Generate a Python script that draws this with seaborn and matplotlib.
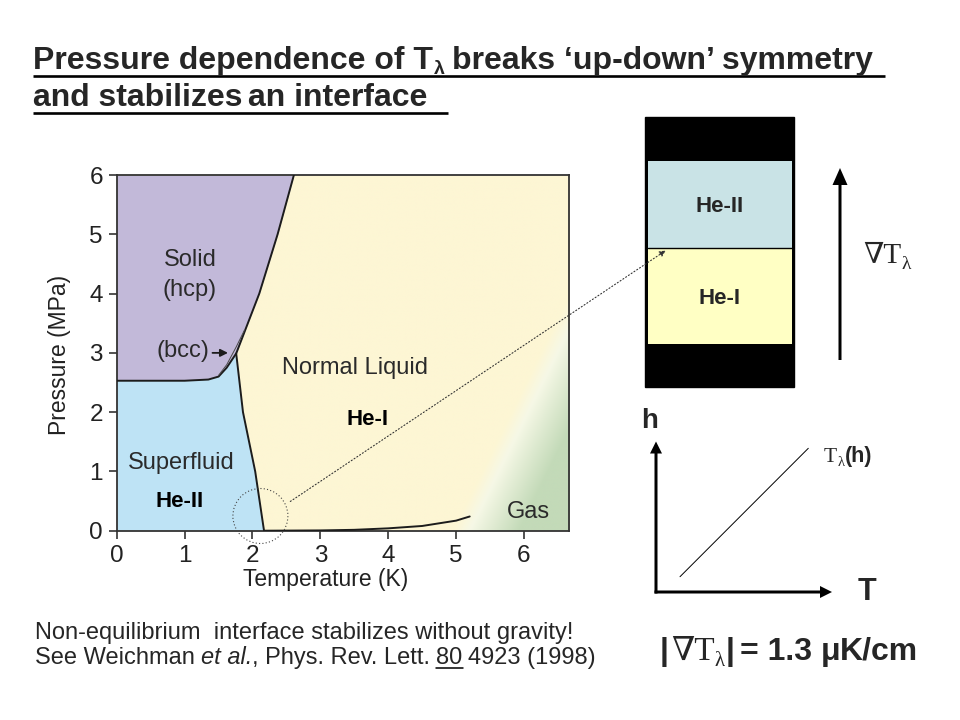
import numpy as np
import seaborn as sns
import matplotlib.pyplot as plt
from matplotlib.patches import Rectangle, Circle, FancyArrow
from matplotlib.colors import LinearSegmentedColormap

# --- helium-4 phase boundaries (T in K, P in MPa) ---
melt_T = [0.0, 1.0, 1.35, 1.5, 1.62, 1.76, 2.1, 2.37, 2.61]
melt_P = [2.53, 2.53, 2.55, 2.6, 2.75, 2.99, 4.0, 5.0, 6.0]
bcc_T = [1.5, 1.62, 1.76, 1.88]
bcc_P = [2.62, 2.8, 3.1, 3.38]
lambda_T = [1.76, 1.86, 2.04, 2.17]
lambda_P = [2.99, 2.0, 1.0, 0.0]
vap_T = [2.17, 3.0, 3.5, 4.0, 4.5, 5.0, 5.2]
vap_P = [0.0, 0.005, 0.015, 0.04, 0.08, 0.17, 0.24]

x_ticks = [0, 1, 2, 3, 4, 5, 6]
y_ticks = [0, 1, 2, 3, 4, 5, 6]

# region labels: (text, T, P)
region_labels = [("Solid", 1.08, 4.57), ("(hcp)", 1.08, 4.06),
                 ("Normal Liquid", 3.51, 2.74), ("Superfluid", 0.95, 1.14),
                 ("Gas", 6.07, 0.32)]
phase_labels = [("He-I", 3.70, 1.87), ("He-II", 0.92, 0.49)]

SOLID = "#C2B9D9"
SUPER = "#BEE3F5"
LIQUID = "#FDF6D4"
GAS = "#C3DAB8"
CELL_BLUE = "#C9E3E6"
CELL_YELLOW = "#FFFFC4"

sns.set_theme(style="ticks")
plt.rcParams['font.family'] = ['Liberation Sans', 'DejaVu Sans']
SERIF = ['Liberation Serif', 'DejaVu Serif']

fig = plt.figure(figsize=(9.6, 7.2), dpi=100)
fig.patch.set_facecolor("white")

# ---------------- phase diagram ----------------
T_MAX = 6.67
ax = fig.add_axes([0.1216, 0.2629, 0.4716, 0.4940])

# liquid -> gas background shading
Tg, Pg = np.meshgrid(np.linspace(0, T_MAX, 500), np.linspace(0, 6, 450))
d = ((Tg - 4.95) * 3.9 - Pg * 1.68) / 4.25
shade = np.clip(d / 0.9, 0, 1)
cmap = LinearSegmentedColormap.from_list("liq_gas", [(0, LIQUID), (0.25, "#F6F8E6"), (1, GAS)])
ax.imshow(shade, extent=(0, T_MAX, 0, 6), origin="lower", cmap=cmap, vmin=0, vmax=1,
          aspect="auto", interpolation="bilinear", zorder=0)

ax.fill_between(melt_T, melt_P, 6, color=SOLID, lw=0, zorder=1)
tip = melt_T.index(lambda_T[0])
sf_T = [0.0] + melt_T[:tip + 1] + lambda_T[1:]
sf_P = [0.0] + melt_P[:tip + 1] + lambda_P[1:]
ax.fill(sf_T, sf_P, color=SUPER, lw=0, zorder=1)

for xs, ys in [(melt_T, melt_P), (lambda_T, lambda_P), (vap_T, vap_P)]:
    sns.lineplot(x=xs, y=ys, ax=ax, color="#1c1c1c", lw=1.4, sort=False,
                 estimator=None, zorder=3)
sns.lineplot(x=bcc_T, y=bcc_P, ax=ax, color="#4a4a4a", lw=0.7, sort=False,
             estimator=None, zorder=3)

for s, t, p in region_labels:
    ax.text(t, p, s, ha="center", va="center", fontsize=17, color="#2a2a2a", zorder=4)
for s, t, p in phase_labels:
    ax.text(t, p, s, ha="center", va="center", fontsize=16, fontweight="bold",
            color="black", zorder=4)
ax.text(0.97, 3.04, "(bcc)", ha="center", va="center", fontsize=17, color="#2a2a2a", zorder=4)
ax.annotate("", xy=(1.68, 3.0), xytext=(1.37, 3.0),
            arrowprops=dict(arrowstyle="-|>", color="#1c1c1c", lw=1.3, mutation_scale=11))

ax.set_xlim(0, T_MAX)
ax.set_ylim(0, 6)
ax.set_xticks(x_ticks)
ax.set_yticks(y_ticks)
ax.tick_params(direction="out", length=6, width=1.2, color="#333333",
               labelsize=17.5, labelcolor="#222222", pad=4)
for sp in ax.spines.values():
    sp.set_color("#333333")
    sp.set_linewidth(1.3)
ax.set_xlabel("Temperature (K)", fontsize=16.5, color="#222222")
ax.set_ylabel("Pressure (MPa)", fontsize=16.5, color="#222222")
ax.xaxis.set_label_coords(0.462, -0.105)
ax.yaxis.set_label_coords(-0.10, 0.494)

# ---------------- overlay in pixel coordinates ----------------
ov = fig.add_axes([0, 0, 1, 1], zorder=5)
ov.set_xlim(0, 960)
ov.set_ylim(720, 0)
ov.axis("off")
renderer = fig.canvas.get_renderer()


def run(x, y, pieces):
    # lay text pieces side by side on one baseline
    for s, gap, kw in pieces:
        kw = dict(kw)
        dy = kw.pop("dy", 0)
        x += gap
        t = ov.text(x, y + dy, s, ha="left", va="baseline", **kw)
        x += t.get_window_extent(renderer).width
    return x


B23 = dict(fontsize=23, fontweight="bold")
# title, underlined
run(33, 69, [("Pressure dependence of T", 0, B23),
             ("λ", 1, dict(fontsize=14, fontweight="bold", dy=5)),
             ("breaks ‘up-down’ symmetry", 7, B23)])
run(33, 106, [("and stabilizes", 0, B23), ("an interface", 5, B23)])
ov.plot([33, 885], [75.5, 75.5], color="black", lw=1.9, solid_capstyle="butt")
ov.plot([33, 448], [112.5, 112.5], color="black", lw=1.9, solid_capstyle="butt")

# reference note
R = dict(fontsize=17)
run(35, 639, [("Non-equilibrium  interface stabilizes without gravity!", 0, R)])
x = run(35, 664, [("See Weichman", 0, R), ("et al.", 6, dict(fontsize=17, style="italic")),
                  (", Phys. Rev. Lett.", 0, R)])
x0 = x + 6
x1 = run(x0, 664, [("80", 0, R)])
ov.plot([x0, x1], [667.5, 667.5], color="black", lw=1.1)
run(x1, 664, [("4923 (1998)", 6, R)])

# zoom circle and pointer to the interface
ov.add_patch(Circle((260.4, 516), 27.5, fill=False, ls=(0, (1, 2)), lw=0.8, color="#444444"))
ov.annotate("", xy=(668, 249), xytext=(288, 503),
            arrowprops=dict(arrowstyle="-|>", ls=(0, (1, 2)), lw=0.8, color="#333333",
                            mutation_scale=9))

# cell with He-II above He-I
ov.add_patch(Rectangle((645, 116.7), 149.3, 270, color="black"))
ov.add_patch(Rectangle((648.3, 160.7), 144, 87, facecolor=CELL_BLUE, lw=0))
ov.add_patch(Rectangle((648.3, 247.7), 144, 96.3, facecolor=CELL_YELLOW, lw=0))
ov.plot([648.3, 792.3], [247.7, 247.7], color="black", lw=1.0)
ov.text(720, 207, "He-II", ha="center", va="center", fontsize=16, fontweight="bold")
ov.text(720, 298, "He-I", ha="center", va="center", fontsize=16, fontweight="bold")

ov.add_patch(FancyArrow(840, 360, 0, -192, width=3, head_width=15, head_length=17,
                        length_includes_head=True, color="black", lw=0))
run(863, 263, [("∇T", 0, dict(fontsize=21, family=SERIF)),
               ("λ", 0, dict(fontsize=14, family=SERIF, dy=6))])

# h-T sketch
ov.add_patch(FancyArrow(656, 593.5, 0, -152, width=3, head_width=12, head_length=12,
                        length_includes_head=True, color="black", lw=0))
ov.add_patch(FancyArrow(654.5, 592, 177.5, 0, width=3, head_width=12, head_length=12,
                        length_includes_head=True, color="black", lw=0))
ov.plot([680, 808.3], [576.7, 448.3], color="black", lw=0.7)
ov.text(650, 421, "h", ha="center", va="center", fontsize=20, fontweight="bold")
ov.text(867, 592, "T", ha="center", va="center", fontsize=22, fontweight="bold")
run(824, 462, [("T", 0, dict(fontsize=15.5, family=SERIF)),
               ("λ", 0, dict(fontsize=10.5, family=SERIF, dy=4)),
               ("(h)", 1, dict(fontsize=15.5, fontweight="bold"))])

run(660, 660, [("|", 0, B23),
               ("∇T", 2, dict(fontsize=24, family=SERIF)),
               ("λ", 0, dict(fontsize=15, family=SERIF, dy=6)),
               ("|", 1, B23),
               ("= 1.3", 6, B23),
               ("μ", 8, B23),
               ("K/cm", 0, B23)])

fig.savefig("out.png", dpi=100, facecolor="white")
